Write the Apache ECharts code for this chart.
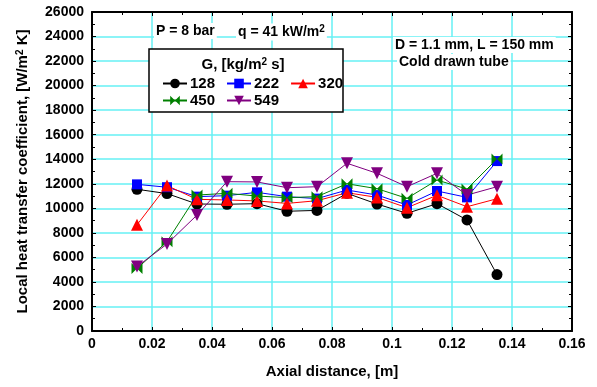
<!DOCTYPE html>
<html>
<head>
<meta charset="utf-8">
<script src="https://cdn.jsdelivr.net/npm/echarts@6/dist/echarts.min.js"></script>
<style>html,body{margin:0;padding:0;background:#fff}#c{width:597px;height:387px}</style>
</head>
<body>
<div id="c"></div>
<script>
const xPos = [0.015, 0.025, 0.035, 0.045, 0.055, 0.065, 0.075, 0.085, 0.095, 0.105, 0.115, 0.125, 0.135];
const g128 = [11550, 11200, 10350, 10330, 10380, 9760, 9830, 11220, 10350, 9590, 10380, 9050, 4600];
const g222 = [11950, 11720, 10950, 11030, 11300, 10950, 10790, 11490, 11080, 10270, 11410, 10890, 13850];
const g320 = [8650, 11850, 10730, 10680, 10600, 10400, 10620, 11270, 10890, 10050, 11060, 10130, 10780];
const g450 = [5100, 7280, 11080, 11220, 11000, 10870, 10950, 12000, 11600, 10810, 12300, 11570, 14020];
const g549 = [5250, 7090, 9450, 12170, 12150, 11680, 11760, 13670, 12850, 11760, 12850, 11080, 11760];
const seriesNames = ['128', '222', '320', '450', '549'];

const FONT = 'Liberation Sans, Arial, sans-serif';
const pair = arr => arr.map((v, i) => [xPos[i], v]);
const bowtie = 'path://M0,0 L5,5 L0,10 Z M10,0 L5,5 L10,10 Z';

function mk(name, data, color, symbol, size, rot) {
  return {
    name: name, type: 'line', data: pair(data),
    symbol: symbol, symbolSize: size, symbolRotate: rot || 0,
    lineStyle: {color: color, width: 1},
    itemStyle: {color: color},
    emphasis: {disabled: true},
    animation: false
  };
}

const axisLbl = {color: '#000', fontWeight: 'bold', fontSize: 14, fontFamily: FONT};
const grid = {left: 92, right: 25, top: 12, bottom: 56};
const split = {show: true, lineStyle: {color: '#66f0f4', width: 1.5}};
const aLine = {show: true, onZero: false, lineStyle: {color: '#000', width: 2}};
const tick = {show: true, inside: true, length: 4, lineStyle: {color: '#000', width: 1}};
const mtick = {show: true, splitNumber: 2, length: 3, lineStyle: {color: '#000', width: 1}};
const sup = {fontSize: 10, fontWeight: 'bold', fontFamily: FONT, verticalAlign: 'top', padding: [0, 0, 5, 0]};

const legendBase = {
  left: 157, itemWidth: 24, itemHeight: 12, itemGap: 11, selectedMode: false,
  textStyle: {color: '#000', fontWeight: 'bold', fontSize: 15, fontFamily: FONT, padding: [0, 0, 0, -2]}
};

const chart = echarts.init(document.getElementById('c'), null, {renderer: 'canvas'});
chart.setOption({
  animation: false,
  backgroundColor: '#fff',
  grid: grid,
  legend: [
    Object.assign({}, legendBase, {top: 71, data: ['128', '222', '320']}),
    Object.assign({}, legendBase, {top: 88, data: ['450', '549']})
  ],
  xAxis: [
    {type: 'value', min: 0, max: 0.16, interval: 0.02, position: 'bottom',
     name: 'Axial distance, [m]', nameLocation: 'middle', nameGap: 33,
     nameTextStyle: {color: '#000', fontWeight: 'bold', fontSize: 15, fontFamily: FONT},
     axisLine: aLine, axisTick: tick, minorTick: mtick, splitLine: split,
     axisLabel: Object.assign({}, axisLbl, {margin: 6, formatter: v => String(+v.toFixed(2))})},
    {type: 'value', min: 0, max: 0.16, interval: 0.02, position: 'top',
     axisLine: aLine, axisTick: tick, minorTick: mtick, splitLine: {show: false},
     axisLabel: {show: false}}
  ],
  yAxis: [
    {type: 'value', min: 0, max: 26000, interval: 2000, position: 'left',
     name: 'Local heat transfer coefficient, [W/m{s|2} K]', nameLocation: 'middle', nameGap: 62,
     nameTextStyle: {color: '#000', fontWeight: 'bold', fontSize: 15, fontFamily: FONT,
       rich: {s: Object.assign({color: '#000'}, sup)}},
     axisLine: aLine, axisTick: tick, minorTick: mtick, splitLine: split,
     axisLabel: Object.assign({}, axisLbl, {margin: 8, formatter: v => String(v)})},
    {type: 'value', min: 0, max: 26000, interval: 2000, position: 'right',
     axisLine: aLine, axisTick: tick, minorTick: mtick, splitLine: {show: false},
     axisLabel: {show: false}}
  ],
  graphic: [
    {type: 'rect', z: 3, shape: {x: 149, y: 49, width: 194, height: 63},
     style: {fill: '#fff', stroke: '#000', lineWidth: 1.5}},
    {type: 'text', z: 4, x: 243, y: 65,
     style: {text: 'G, [kg/m{s|2} s]', fill: '#000', font: 'bold 15px ' + FONT,
       align: 'center', verticalAlign: 'middle',
       rich: {s: Object.assign({fill: '#000'}, sup)}}},
    {type: 'text', z: 4, x: 154, y: 31,
     style: {text: 'P = 8 bar', fill: '#000', font: 'bold 14px ' + FONT,
       verticalAlign: 'middle', backgroundColor: '#fff', padding: [1, 2, 1, 2]}},
    {type: 'text', z: 4, x: 236, y: 32,
     style: {text: 'q = 41 kW/m{s|2}', fill: '#000', font: 'bold 14px ' + FONT,
       verticalAlign: 'middle', backgroundColor: '#fff', padding: [1, 2, 1, 2],
       rich: {s: Object.assign({fill: '#000'}, sup)}}},
    {type: 'text', z: 4, x: 393, y: 45,
     style: {text: 'D = 1.1 mm, L = 150 mm', fill: '#000', font: 'bold 14px ' + FONT,
       verticalAlign: 'middle', backgroundColor: '#fff', padding: [1, 2, 1, 2]}},
    {type: 'text', z: 4, x: 397, y: 62,
     style: {text: 'Cold drawn tube', fill: '#000', font: 'bold 14px ' + FONT,
       verticalAlign: 'middle', backgroundColor: '#fff', padding: [1, 2, 1, 2]}}
  ],
  series: [
    mk(seriesNames[0], g128, '#000000', 'circle', 11),
    mk(seriesNames[1], g222, '#0000ff', 'rect', 10),
    mk(seriesNames[2], g320, '#ff0000', 'triangle', 12),
    mk(seriesNames[3], g450, '#008000', bowtie, 11),
    mk(seriesNames[4], g549, '#800080', 'triangle', 12, 180)
  ]
});
</script>
</body>
</html>
